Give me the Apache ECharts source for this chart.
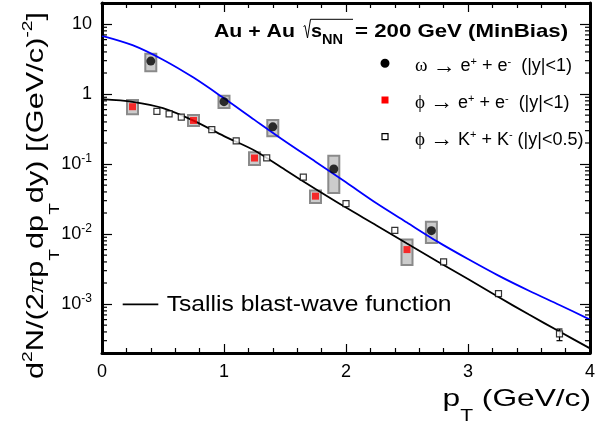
<!DOCTYPE html>
<html>
<head>
<meta charset="utf-8">
<script src="https://cdn.jsdelivr.net/npm/echarts@6/dist/echarts.min.js"></script>
<style>
  html, body { margin: 0; padding: 0; background: #fff; }
  #chart { width: 611px; height: 422px; }
</style>
</head>
<body>
<div id="chart"></div>
<script>
// omega -> e+ + e-  (|y|<1), with systematic boxes
const omegaPt = [0.4, 1.0, 1.4, 1.9, 2.7];
const omegaYield = [2.96, 0.78, 0.34, 0.085, 0.0112];
const omegaSysLow = [2.12, 0.635, 0.249, 0.0386, 0.00744];
const omegaSysHigh = [3.78, 0.95, 0.425, 0.131, 0.0150];

// phi -> e+ + e-  (|y|<1), with systematic boxes
const phiEePt = [0.25, 0.75, 1.25, 1.75, 2.5];
const phiEeYield = [0.66, 0.42, 0.122, 0.0348, 0.0060];
const phiEeSysLow = [0.513, 0.349, 0.0967, 0.0279, 0.00362];
const phiEeSysHigh = [0.825, 0.501, 0.147, 0.0420, 0.00834];

// phi -> K+ + K-  (|y|<0.5)
const phiKkPt = [0.45, 0.55, 0.65, 0.9, 1.1, 1.35, 1.65, 2.0, 2.4, 2.8, 3.25, 3.75];
const phiKkYield = [0.565, 0.52, 0.47, 0.31, 0.215, 0.123, 0.065, 0.0273, 0.0113, 0.0040, 0.00141, 0.000375];
const phiKkErrLow = [0.565, 0.52, 0.47, 0.31, 0.215, 0.123, 0.065, 0.0273, 0.0113, 0.0040, 0.00141, 0.000300];
const phiKkErrHigh = [0.565, 0.52, 0.47, 0.31, 0.215, 0.123, 0.065, 0.0273, 0.0113, 0.0040, 0.00141, 0.000440];

// Tsallis blast-wave curves
const fitPt = [0, 0.25, 0.5, 0.75, 1.0, 1.25, 1.5, 1.75, 2.0, 2.25, 2.5, 2.75, 3.0, 3.25, 3.5, 3.75, 4.0];
const omegaFit = [6.8, 5.0, 3.1, 1.72, 0.87, 0.428, 0.212, 0.108, 0.0548, 0.0275, 0.0146, 0.0078, 0.0044, 0.00255, 0.00155, 0.00097, 0.00060];
const phiFit = [0.848, 0.776, 0.631, 0.418, 0.251, 0.156, 0.0829, 0.0441, 0.0239, 0.0133, 0.00731, 0.00406, 0.00228, 0.00126, 0.000708, 0.000405, 0.000233];

const xTicks = [0, 1, 2, 3, 4];

const FONT = "'Liberation Sans', Arial, Helvetica, sans-serif";
const SERIF = "'Liberation Serif', 'DejaVu Serif', serif";

// log minor ticks 2..9 in each decade
const yMinorTicks = [];
for (let e = -4; e <= 1; e++) {
  for (let m = 2; m <= 9; m++) {
    const v = m * Math.pow(10, e);
    if (v > 2e-4 && v < 20) yMinorTicks.push(v);
  }
}

const chart = echarts.init(document.getElementById('chart'));

function sysBoxes(name, pts, lo, hi) {
  return {
    name: name,
    type: 'custom',
    z: 1,
    silent: true,
    data: pts.map((p, i) => [p, lo[i], hi[i]]),
    encode: { x: 0, y: [1, 2] },
    renderItem: function (params, api) {
      const top = api.coord([api.value(0), api.value(2)]);
      const bot = api.coord([api.value(0), api.value(1)]);
      const hw = 5.5;
      return {
        type: 'rect',
        shape: { x: top[0] - hw, y: top[1], width: hw * 2, height: bot[1] - top[1] },
        style: { fill: '#cccccc', stroke: '#8a8a8a', lineWidth: 2 }
      };
    }
  };
}

function pairs(xs, ys) {
  return xs.map((x, i) => [x, ys[i]]);
}

const axisLineStyle = { color: '#000', width: 3 };
const tickStyle = { color: '#000', width: 1.2 };

function xAxisDef(pos, showLabel) {
  return {
    type: 'value',
    position: pos,
    min: 0,
    max: 4,
    interval: 1,
    axisLine: { show: true, onZero: false, lineStyle: axisLineStyle },
    axisTick: { show: true, inside: true, length: 9, lineStyle: tickStyle },
    minorTick: { show: true, splitNumber: 5, length: 5, lineStyle: tickStyle },
    splitLine: { show: false },
    minorSplitLine: { show: false },
    axisLabel: {
      show: showLabel,
      margin: 10,
      color: '#000',
      fontSize: 18,
      fontFamily: FONT,
      formatter: v => (xTicks.indexOf(v) >= 0 ? String(v) : '')
    }
  };
}

function yAxisDef(pos, showLabel) {
  return {
    type: 'log',
    logBase: 10,
    position: pos,
    min: 2e-4,
    max: 20,
    axisLine: { show: true, onZero: false, lineStyle: axisLineStyle },
    axisTick: { show: true, inside: true, length: 10, lineStyle: tickStyle },
    minorTick: { show: false },
    splitLine: { show: false },
    axisLabel: {
      show: showLabel,
      margin: 10,
      color: '#000',
      fontSize: 18,
      fontFamily: FONT,
      lineHeight: 24,
      showMinLabel: false,
      showMaxLabel: false,
      rich: {
        sup: { fontSize: 12, fontFamily: FONT, color: '#000', height: 13, verticalAlign: 'top' }
      },
      formatter: function (v) {
        const e = Math.log10(v);
        const r = Math.round(e);
        if (Math.abs(e - r) > 1e-6) return '';
        if (r === 0) return '1';
        if (r === 1) return '10';
        return '10{sup|' + r + '}';
      }
    }
  };
}

const legendRich = {
  g: { fontSize: 19, fontFamily: SERIF, fill: '#000' },
  a: { fontSize: 23, fontFamily: SERIF, fill: '#000' },
  p: { fontSize: 11, fontFamily: FONT, fill: '#000', height: 13, verticalAlign: 'top' }
};

const option = {
  backgroundColor: '#fff',
  animation: false,
  grid: { left: 102, right: 21, top: 3, bottom: 69 },
  xAxis: [xAxisDef('bottom', true), xAxisDef('top', false)],
  yAxis: [yAxisDef('left', true), yAxisDef('right', false)],
  series: [
    {
      name: 'yMinorTicks',
      type: 'custom',
      silent: true,
      z: 5,
      clip: false,
      data: yMinorTicks.map(v => [0, v]),
      encode: { x: 0, y: 1 },
      renderItem: function (params, api) {
        const l = api.coord([0, api.value(1)]);
        const r = api.coord([4, api.value(1)]);
        return {
          type: 'group',
          children: [
            { type: 'line', shape: { x1: l[0], y1: l[1], x2: l[0] + 5, y2: l[1] }, style: { stroke: '#000', lineWidth: 1.2 } },
            { type: 'line', shape: { x1: r[0] - 5, y1: r[1], x2: r[0], y2: r[1] }, style: { stroke: '#000', lineWidth: 1.2 } }
          ]
        };
      }
    },
    sysBoxes('omegaSys', omegaPt, omegaSysLow, omegaSysHigh),
    sysBoxes('phiEeSys', phiEePt, phiEeSysLow, phiEeSysHigh),
    {
      name: 'phiKkErr',
      type: 'custom',
      silent: true,
      z: 2,
      data: phiKkPt.map((p, i) => [p, phiKkErrLow[i], phiKkErrHigh[i]]),
      encode: { x: 0, y: [1, 2] },
      renderItem: function (params, api) {
        if (api.value(2) <= api.value(1)) return null;
        const top = api.coord([api.value(0), api.value(2)]);
        const bot = api.coord([api.value(0), api.value(1)]);
        const s = { stroke: '#000', lineWidth: 1.2 };
        return {
          type: 'group',
          children: [
            { type: 'line', shape: { x1: top[0], y1: top[1], x2: bot[0], y2: bot[1] }, style: s },
            { type: 'line', shape: { x1: top[0] - 3, y1: top[1], x2: top[0] + 3, y2: top[1] }, style: s },
            { type: 'line', shape: { x1: bot[0] - 3, y1: bot[1], x2: bot[0] + 3, y2: bot[1] }, style: s }
          ]
        };
      }
    },
    {
      name: 'omegaFit',
      type: 'line',
      z: 3,
      data: pairs(fitPt, omegaFit),
      showSymbol: false,
      symbol: 'none',
      smooth: 0.3,
      lineStyle: { color: '#0000ff', width: 1.8 }
    },
    {
      name: 'Tsallis blast-wave function',
      type: 'line',
      z: 3,
      data: pairs(fitPt, phiFit),
      showSymbol: false,
      symbol: 'none',
      smooth: 0.3,
      lineStyle: { color: '#000', width: 1.8 }
    },
    {
      name: 'omega',
      type: 'scatter',
      z: 4,
      symbol: 'circle',
      symbolSize: 9,
      itemStyle: { color: '#000' },
      data: pairs(omegaPt, omegaYield)
    },
    {
      name: 'phiEe',
      type: 'scatter',
      z: 4,
      symbol: 'rect',
      symbolSize: 7,
      itemStyle: { color: '#ff0000' },
      data: pairs(phiEePt, phiEeYield)
    },
    {
      name: 'phiKk',
      type: 'scatter',
      z: 4,
      symbol: 'rect',
      symbolSize: 6,
      itemStyle: { color: '#fff', borderColor: '#000', borderWidth: 1.2 },
      data: pairs(phiKkPt, phiKkYield)
    }
  ],
  graphic: [
    // title
    {
      type: 'text', x: 214, y: 31.7, scaleX: 1.12, z: 100,
      style: { text: 'Au + Au', font: 'bold 19px ' + FONT, fill: '#000', align: 'left', verticalAlign: 'middle' }
    },
    {
      type: 'polyline', z: 100,
      shape: { points: [[303.5, 26.5], [305, 25.5], [307.5, 38], [310.5, 19.3], [353, 19.3]] },
      style: { stroke: '#000', lineWidth: 1, fill: null }
    },
    {
      type: 'text', x: 311, y: 31.5, scaleX: 1.04, z: 100,
      style: {
        text: '{s|s}{n|NN}', align: 'left', verticalAlign: 'middle', lineHeight: 30, fill: '#000',
        rich: {
          s: { fontSize: 19, fontWeight: 'bold', fontFamily: FONT, fill: '#000' },
          n: { fontSize: 14, fontWeight: 'bold', fontFamily: FONT, fill: '#000', height: 13, verticalAlign: 'bottom' }
        }
      }
    },
    {
      type: 'text', x: 355, y: 31.7, scaleX: 1.17, z: 100,
      style: { text: '= 200 GeV (MinBias)', font: 'bold 19px ' + FONT, fill: '#000', align: 'left', verticalAlign: 'middle' }
    },
    // legend markers
    { type: 'circle', z: 100, shape: { cx: 385, cy: 63.3, r: 4.5 }, style: { fill: '#000' } },
    { type: 'rect', z: 100, shape: { x: 381.5, y: 96.5, width: 7, height: 7 }, style: { fill: '#ff0000' } },
    { type: 'rect', z: 100, shape: { x: 382, y: 133.7, width: 6, height: 6 }, style: { fill: '#fff', stroke: '#000', lineWidth: 1.2 } },
    // legend texts
    {
      type: 'text', x: 415, y: 66.5, scaleX: 1.0, z: 100,
      style: {
        text: '{g|ω} {a|→} e{p|+} + e{p|-}  (|y|<1)',
        align: 'left', verticalAlign: 'middle', lineHeight: 22, fill: '#000',
        fontSize: 18, fontFamily: FONT, rich: legendRich
      }
    },
    {
      type: 'text', x: 415, y: 103.2, scaleX: 1.0, z: 100,
      style: {
        text: '{g|ϕ} {a|→} e{p|+} + e{p|-}  (|y|<1)',
        align: 'left', verticalAlign: 'middle', lineHeight: 22, fill: '#000',
        fontSize: 18, fontFamily: FONT, rich: legendRich
      }
    },
    {
      type: 'text', x: 415, y: 139.9, scaleX: 1.0, z: 100,
      style: {
        text: '{g|ϕ} {a|→} K{p|+} + K{p|-} (|y|<0.5)',
        align: 'left', verticalAlign: 'middle', lineHeight: 22, fill: '#000',
        fontSize: 18, fontFamily: FONT, rich: legendRich
      }
    },
    // fit legend
    { type: 'line', z: 100, shape: { x1: 122.7, y1: 304.3, x2: 158.3, y2: 304.3 }, style: { stroke: '#000', lineWidth: 1.8 } },
    {
      type: 'text', x: 166.7, y: 305.3, scaleX: 1.12, z: 100,
      style: { text: 'Tsallis blast-wave function', font: '22px ' + FONT, fill: '#000', align: 'left', verticalAlign: 'middle' }
    },
    // y axis title
    {
      type: 'text', x: 36.5, y: 195.5, rotation: Math.PI / 2, scaleX: 1.28, z: 100,
      style: {
        text: 'd{sp|2}N/(2{pi|π}p{sb|T}dp{sb|T}dy) [(GeV/c){sp|-2}]',
        align: 'center', verticalAlign: 'middle', lineHeight: 52, fill: '#000',
        fontSize: 24, fontFamily: FONT,
        rich: {
          sp: { fontSize: 15, fontFamily: FONT, fill: '#000', height: 34, verticalAlign: 'top' },
          sb: { fontSize: 15, fontFamily: FONT, fill: '#000', height: 16, verticalAlign: 'bottom' },
          pi: { fontSize: 24, fontFamily: SERIF, fontStyle: 'italic', fill: '#000' }
        }
      }
    },
    // x axis title
    {
      type: 'text', x: 591, y: 399.4, scaleX: 1.32, z: 100,
      style: {
        text: 'p{sb|T} (GeV/c)',
        align: 'right', verticalAlign: 'middle', lineHeight: 50, fill: '#000',
        fontSize: 24, fontFamily: FONT,
        rich: {
          sb: { fontSize: 16, fontFamily: FONT, fill: '#000', height: 15.4, verticalAlign: 'bottom' }
        }
      }
    }
  ]
};

chart.setOption(option);
window.addEventListener('resize', () => chart.resize());
</script>
</body>
</html>
